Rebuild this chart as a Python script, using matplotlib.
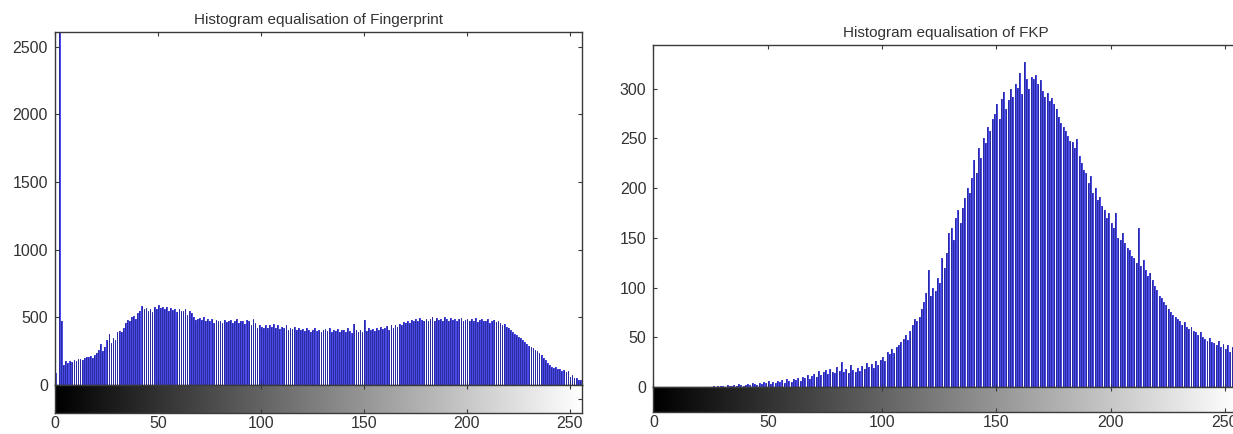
import numpy as np
import matplotlib
matplotlib.use("Agg")
import matplotlib.pyplot as plt

plt.rcParams['font.family'] = ['Liberation Sans', 'DejaVu Sans']

# grey level bins 0..255
levels = np.arange(256)

# histogram counts
finger_counts = [
    90, 0, 2700, 470, 150, 175, 165, 180, 170, 185,
    180, 190, 195, 185, 200, 210, 205, 215, 200, 220,
    235, 260, 300, 250, 280, 330, 380, 310, 350, 330,
    390, 400, 395, 420, 460, 480, 470, 500, 510, 490,
    530, 545, 585, 560, 570, 550, 565, 540, 575, 560,
    590, 570, 580, 560, 575, 545, 570, 555, 560, 540,
    565, 550, 545, 560, 520, 545, 530, 500, 480, 490,
    495, 480, 500, 470, 485, 475, 490, 460, 480, 470,
    475, 460, 480, 465, 470, 480, 455, 475, 490, 460,
    470, 475, 450, 480, 470, 440, 485, 460, 420, 440,
    430, 425, 440, 420, 445, 430, 450, 425, 440, 415,
    430, 420, 440, 410, 425, 415, 430, 405, 420, 410,
    415, 400, 420, 405, 395, 410, 420, 400, 410, 390,
    405, 415, 400, 420, 395, 410, 400, 415, 390, 405,
    410, 395, 420, 400, 385, 450, 405, 395, 410, 390,
    480, 400, 420, 405, 415, 400, 425, 410, 430, 415,
    420, 435, 410, 440, 425, 445, 430, 450, 440, 465,
    455, 470, 460, 480, 475, 490, 470, 495, 480, 470,
    490, 475, 485, 500, 470, 495, 480, 490, 475, 500,
    485, 470, 495, 480, 490, 470, 485, 495, 475, 480,
    490, 470, 485, 475, 495, 465, 480, 490, 470, 475,
    485, 460, 470, 480, 465, 470, 455, 440, 450, 430,
    420, 410, 395, 380, 370, 355, 345, 330, 320, 305,
    290, 280, 270, 260, 250, 235, 220, 200, 185, 165,
    150, 135, 125, 130, 115, 120, 105, 110, 95, 100,
    60, 75, 50, 55, 40, 35,
]

# histogram counts
fkp_counts = [
    0, 0, 0, 0, 0, 0, 0, 0, 0, 0,
    0, 0, 0, 0, 0, 0, 0, 0, 0, 0,
    0, 0, 0, 0, 0, 0, 1, 0, 1, 1,
    1, 0, 2, 1, 1, 2, 1, 3, 2, 1,
    2, 3, 2, 4, 3, 2, 4, 3, 5, 4,
    6, 3, 5, 4, 6, 5, 7, 4, 8, 6,
    5, 8, 7, 9, 6, 10, 9, 12, 8, 11,
    13, 10, 16, 12, 15, 17, 13, 18, 15, 14,
    20, 16, 25, 15, 18, 14, 22, 17, 15, 19,
    16, 21, 18, 24, 20, 23, 19, 26, 22, 27,
    30, 26, 35, 33, 38, 34, 40, 42, 45, 48,
    52, 47, 56, 62, 68, 66, 70, 78, 85, 95,
    118, 92, 100, 97, 110, 105, 130, 120, 135, 155,
    160, 148, 170, 178, 165, 180, 190, 200, 195, 210,
    228, 215, 240, 230, 250, 245, 262, 258, 270, 275,
    285, 270, 290, 297, 280, 289, 300, 292, 305, 301,
    316, 295, 327, 310, 300, 312, 310, 314, 305, 309,
    298, 292, 296, 288, 291, 285, 280, 272, 266, 262,
    258, 252, 247, 246, 240, 249, 232, 225, 218, 215,
    205, 212, 195, 200, 188, 191, 182, 178, 170, 175,
    165, 160, 175, 150, 148, 155, 145, 140, 138, 132,
    130, 125, 160, 122, 128, 118, 112, 115, 108, 102,
    98, 92, 90, 85, 82, 78, 75, 72, 70, 68,
    66, 62, 65, 60, 58, 60, 56, 55, 52, 55,
    50, 48, 46, 49, 45, 44, 42, 46, 40, 43,
    38, 42, 35, 40, 33, 38,
]

xticks = [0, 50, 100, 150, 200, 250]
finger_yticks = [0, 500, 1000, 1500, 2000, 2500]
fkp_yticks = [0, 50, 100, 150, 200, 250, 300]

edge_col = '#3a3a3a'
text_col = '#333333'

fig = plt.figure(figsize=(12.33, 4.34), dpi=100)


def histogram_panel(hist_rect, bar_rect, counts, yticks, ymax, title):
    ax = fig.add_axes(hist_rect)
    ax.bar(levels, counts, width=0.85, color='#4a4ae6', edgecolor='none',
           align='edge')
    # stem lines as in imhist
    ax.vlines(levels + 0.05, 0, counts, color='#1e1e82', linewidth=0.5)
    ax.set_xlim(0, 256)
    ax.set_ylim(0, ymax)
    ax.set_xticks(xticks)
    ax.set_xticklabels([])
    ax.set_yticks(yticks)
    ax.tick_params(direction='in', top=True, right=True, length=3,
                   color=edge_col, labelsize=11.5, labelcolor=text_col, pad=5)
    for s in ax.spines.values():
        s.set_color(edge_col)
        s.set_linewidth(1.0)
    ax.set_title(title, fontsize=11, color=text_col, pad=6)

    # grey level colour strip under the histogram
    cb = fig.add_axes(bar_rect)
    grad = np.linspace(0, 1, 256).reshape(1, -1)
    cb.imshow(grad, cmap='gray', aspect='auto', extent=[0, 256, 0, 1],
              interpolation='bilinear')
    cb.set_xlim(0, 256)
    cb.set_ylim(0, 1)
    cb.set_xticks(xticks)
    cb.set_yticks([0.5])
    cb.set_yticklabels([])
    cb.tick_params(direction='in', top=True, right=True, left=False, length=3,
                   color=edge_col, labelsize=11.5, labelcolor=text_col, pad=2)
    for s in cb.spines.values():
        s.set_color(edge_col)
        s.set_linewidth(1.0)
    return ax, cb


histogram_panel([0.0446, 0.1129, 0.4274, 0.8134],
                [0.0446, 0.0484, 0.4274, 0.0645],
                finger_counts, finger_yticks, 2610,
                'Histogram equalisation of Fingerprint')

histogram_panel([0.5300, 0.1083, 0.4745, 0.7880],
                [0.5300, 0.0507, 0.4745, 0.0576],
                fkp_counts, fkp_yticks, 344,
                'Histogram equalisation of FKP')

fig.savefig('out.png', dpi=100)
